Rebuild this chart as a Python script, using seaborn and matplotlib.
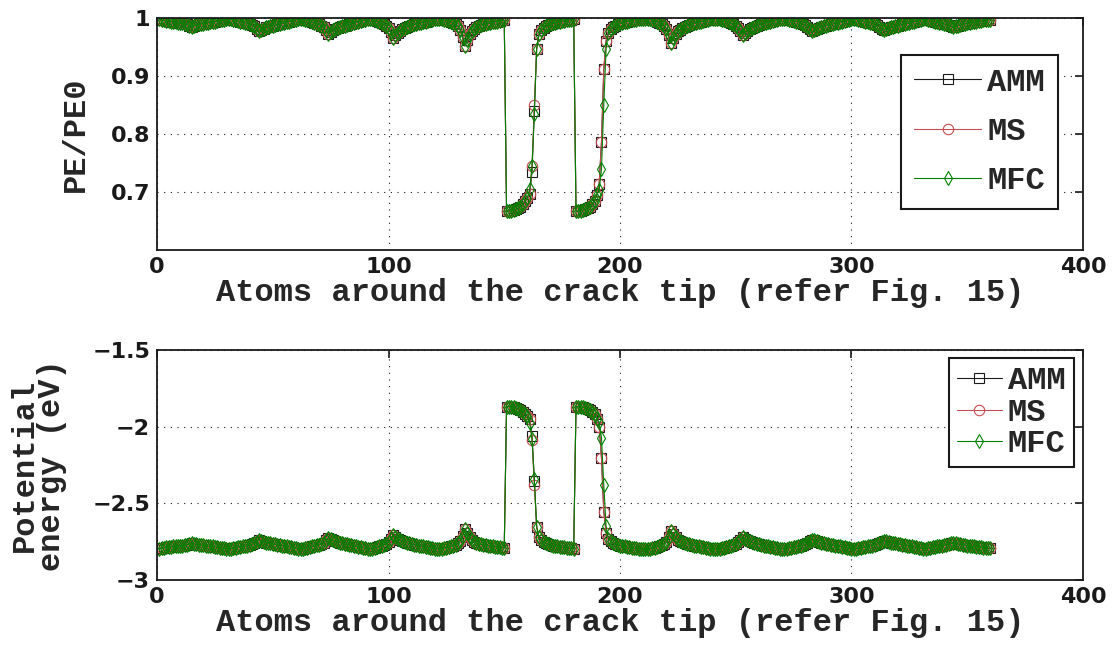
import matplotlib
matplotlib.use('Agg')
import matplotlib.pyplot as plt
import numpy as np
import pandas as pd
import seaborn as sns

# atom index around the crack tip (12 rings of 30 atoms)
atoms = list(range(1, 361))

# PE/PE0 for AMM
ratio_amm = [
    # 1-30
    0.998, 0.997, 0.996, 0.995, 0.995, 0.994, 0.993, 0.993, 0.992, 0.991,
    0.991, 0.990, 0.989, 0.987, 0.985, 0.987, 0.988, 0.989, 0.990, 0.990,
    0.991, 0.992, 0.993, 0.993, 0.994, 0.995, 0.996, 0.996, 0.997, 0.998,
    # 31-60
    0.999, 0.998, 0.997, 0.996, 0.995, 0.994, 0.993, 0.992, 0.991, 0.990,
    0.988, 0.986, 0.982, 0.977, 0.980, 0.982, 0.984, 0.985, 0.986, 0.987,
    0.988, 0.989, 0.990, 0.991, 0.992, 0.993, 0.994, 0.995, 0.996, 0.997,
    # 61-90
    0.998, 0.999, 0.998, 0.997, 0.996, 0.995, 0.993, 0.992, 0.990, 0.989,
    0.987, 0.984, 0.979, 0.973, 0.976, 0.979, 0.981, 0.983, 0.984, 0.986,
    0.987, 0.988, 0.989, 0.990, 0.992, 0.993, 0.994, 0.995, 0.996, 0.997,
    # 91-120
    0.998, 0.999, 0.998, 0.996, 0.995, 0.993, 0.991, 0.989, 0.987, 0.983,
    0.976, 0.966, 0.970, 0.975, 0.978, 0.981, 0.983, 0.985, 0.986, 0.988,
    0.989, 0.990, 0.991, 0.992, 0.993, 0.994, 0.995, 0.996, 0.997, 0.998,
    # 121-150
    0.999, 0.999, 0.998, 0.997, 0.996, 0.995, 0.993, 0.991, 0.989, 0.986,
    0.980, 0.968, 0.952, 0.962, 0.972, 0.978, 0.982, 0.985, 0.987, 0.988,
    0.989, 0.990, 0.991, 0.992, 0.993, 0.994, 0.994, 0.995, 0.996, 0.996,
    # 151-180
    0.667, 0.667, 0.668, 0.669, 0.670, 0.672, 0.675, 0.679, 0.684, 0.690,
    0.697, 0.735, 0.840, 0.947, 0.972, 0.979, 0.983, 0.986, 0.988, 0.990,
    0.991, 0.992, 0.993, 0.994, 0.995, 0.995, 0.996, 0.997, 0.997, 0.998,
    # 181-210
    0.667, 0.667, 0.668, 0.669, 0.670, 0.672, 0.675, 0.679, 0.685, 0.695,
    0.714, 0.786, 0.912, 0.961, 0.975, 0.981, 0.985, 0.987, 0.989, 0.991,
    0.992, 0.993, 0.994, 0.995, 0.996, 0.997, 0.997, 0.998, 0.998, 0.999,
    # 211-240
    0.999, 0.999, 0.998, 0.997, 0.996, 0.994, 0.992, 0.990, 0.987, 0.982,
    0.970, 0.957, 0.965, 0.972, 0.977, 0.980, 0.983, 0.985, 0.987, 0.988,
    0.990, 0.991, 0.992, 0.993, 0.994, 0.995, 0.996, 0.997, 0.998, 0.998,
    # 241-270
    0.999, 0.999, 0.998, 0.997, 0.996, 0.995, 0.993, 0.991, 0.989, 0.987,
    0.983, 0.977, 0.971, 0.975, 0.978, 0.981, 0.983, 0.985, 0.987, 0.988,
    0.990, 0.991, 0.992, 0.993, 0.994, 0.995, 0.996, 0.997, 0.998, 0.999,
    # 271-300
    0.999, 0.998, 0.997, 0.996, 0.995, 0.994, 0.993, 0.991, 0.990, 0.988,
    0.985, 0.981, 0.977, 0.979, 0.981, 0.983, 0.985, 0.986, 0.987, 0.988,
    0.989, 0.990, 0.991, 0.992, 0.993, 0.994, 0.995, 0.996, 0.997, 0.998,
    # 301-330
    0.999, 0.998, 0.997, 0.996, 0.995, 0.994, 0.993, 0.992, 0.991, 0.990,
    0.988, 0.985, 0.982, 0.980, 0.981, 0.983, 0.984, 0.985, 0.986, 0.987,
    0.988, 0.989, 0.990, 0.991, 0.992, 0.993, 0.994, 0.995, 0.996, 0.997,
    # 331-360
    0.998, 0.998, 0.997, 0.996, 0.995, 0.994, 0.993, 0.992, 0.991, 0.990,
    0.989, 0.988, 0.986, 0.985, 0.986, 0.987, 0.988, 0.989, 0.990, 0.991,
    0.992, 0.993, 0.993, 0.994, 0.995, 0.995, 0.996, 0.996, 0.997, 0.997,
]

# potential energy (eV) for AMM
energy_amm = [
    # 1-30
    -2.794, -2.792, -2.789, -2.786, -2.786, -2.783, -2.780, -2.780, -2.778, -2.775,
    -2.775, -2.772, -2.769, -2.764, -2.758, -2.764, -2.766, -2.769, -2.772, -2.772,
    -2.775, -2.778, -2.780, -2.780, -2.783, -2.786, -2.789, -2.789, -2.792, -2.794,
    # 31-60
    -2.797, -2.794, -2.792, -2.789, -2.786, -2.783, -2.780, -2.778, -2.775, -2.772,
    -2.766, -2.761, -2.750, -2.736, -2.744, -2.750, -2.755, -2.758, -2.761, -2.764,
    -2.766, -2.769, -2.772, -2.775, -2.778, -2.780, -2.783, -2.786, -2.789, -2.792,
    # 61-90
    -2.794, -2.797, -2.794, -2.792, -2.789, -2.786, -2.780, -2.778, -2.772, -2.769,
    -2.764, -2.755, -2.741, -2.724, -2.733, -2.741, -2.747, -2.752, -2.755, -2.761,
    -2.764, -2.766, -2.769, -2.772, -2.778, -2.780, -2.783, -2.786, -2.789, -2.792,
    # 91-120
    -2.794, -2.797, -2.794, -2.789, -2.786, -2.780, -2.775, -2.769, -2.764, -2.752,
    -2.733, -2.705, -2.716, -2.730, -2.738, -2.747, -2.752, -2.758, -2.761, -2.766,
    -2.769, -2.772, -2.775, -2.778, -2.780, -2.783, -2.786, -2.789, -2.792, -2.794,
    # 121-150
    -2.797, -2.797, -2.794, -2.792, -2.789, -2.786, -2.780, -2.775, -2.769, -2.761,
    -2.744, -2.710, -2.666, -2.694, -2.722, -2.738, -2.750, -2.758, -2.764, -2.766,
    -2.769, -2.772, -2.775, -2.778, -2.780, -2.783, -2.783, -2.786, -2.789, -2.789,
    # 151-180
    -1.868, -1.868, -1.870, -1.873, -1.876, -1.882, -1.890, -1.901, -1.915, -1.932,
    -1.952, -2.058, -2.352, -2.652, -2.722, -2.741, -2.752, -2.761, -2.766, -2.772,
    -2.775, -2.778, -2.780, -2.783, -2.786, -2.786, -2.789, -2.792, -2.792, -2.794,
    # 181-210
    -1.868, -1.868, -1.870, -1.873, -1.876, -1.882, -1.890, -1.901, -1.918, -1.946,
    -1.999, -2.201, -2.554, -2.691, -2.730, -2.747, -2.758, -2.764, -2.769, -2.775,
    -2.778, -2.780, -2.783, -2.786, -2.789, -2.792, -2.792, -2.794, -2.794, -2.797,
    # 211-240
    -2.797, -2.797, -2.794, -2.792, -2.789, -2.783, -2.778, -2.772, -2.764, -2.750,
    -2.716, -2.680, -2.702, -2.722, -2.736, -2.744, -2.752, -2.758, -2.764, -2.766,
    -2.772, -2.775, -2.778, -2.780, -2.783, -2.786, -2.789, -2.792, -2.794, -2.794,
    # 241-270
    -2.797, -2.797, -2.794, -2.792, -2.789, -2.786, -2.780, -2.775, -2.769, -2.764,
    -2.752, -2.736, -2.719, -2.730, -2.738, -2.747, -2.752, -2.758, -2.764, -2.766,
    -2.772, -2.775, -2.778, -2.780, -2.783, -2.786, -2.789, -2.792, -2.794, -2.797,
    # 271-300
    -2.797, -2.794, -2.792, -2.789, -2.786, -2.783, -2.780, -2.775, -2.772, -2.766,
    -2.758, -2.747, -2.736, -2.741, -2.747, -2.752, -2.758, -2.761, -2.764, -2.766,
    -2.769, -2.772, -2.775, -2.778, -2.780, -2.783, -2.786, -2.789, -2.792, -2.794,
    # 301-330
    -2.797, -2.794, -2.792, -2.789, -2.786, -2.783, -2.780, -2.778, -2.775, -2.772,
    -2.766, -2.758, -2.750, -2.744, -2.747, -2.752, -2.755, -2.758, -2.761, -2.764,
    -2.766, -2.769, -2.772, -2.775, -2.778, -2.780, -2.783, -2.786, -2.789, -2.792,
    # 331-360
    -2.794, -2.794, -2.792, -2.789, -2.786, -2.783, -2.780, -2.778, -2.775, -2.772,
    -2.769, -2.766, -2.761, -2.758, -2.761, -2.764, -2.766, -2.769, -2.772, -2.775,
    -2.778, -2.780, -2.780, -2.783, -2.786, -2.786, -2.789, -2.789, -2.792, -2.792,
]

# MS and MFC follow AMM except at a few atoms in the crack-face transitions
ratio_ms_diff = {162: 0.745, 163: 0.850}
ratio_mfc_diff = {161: 0.705, 162: 0.745, 163: 0.835,
                  191: 0.703, 192: 0.739, 193: 0.850, 194: 0.947}
energy_ms_diff = {162: -2.085, 163: -2.380}
energy_mfc_diff = {161: -1.975, 162: -2.080, 163: -2.340,
                   191: -1.970, 192: -2.070, 193: -2.380, 194: -2.650}

methods = ['AMM', 'MS', 'MFC']


def with_changes(base, changes):
    vals = list(base)
    for atom, v in changes.items():
        vals[atom - 1] = v
    return vals


ratio = {'AMM': ratio_amm,
         'MS': with_changes(ratio_amm, ratio_ms_diff),
         'MFC': with_changes(ratio_amm, ratio_mfc_diff)}
energy = {'AMM': energy_amm,
          'MS': with_changes(energy_amm, energy_ms_diff),
          'MFC': with_changes(energy_amm, energy_mfc_diff)}

styles = {'AMM': dict(color='k', marker='s', markersize=6.5),
          'MS': dict(color='r', marker='o', markersize=7.5),
          'MFC': dict(color=(0, 0.5, 0), marker='d', markersize=7.5)}

sns.set_theme(style='white')
plt.rcParams['font.family'] = ['DejaVu Sans']
mono = ['Liberation Mono', 'DejaVu Sans Mono']
label_font = dict(family=mono, weight='bold', size=23)

fig = plt.figure(figsize=(11.16, 6.46), dpi=100)
ax1 = fig.add_axes([0.1407, 0.613, 0.8297, 0.359])
ax2 = fig.add_axes([0.1407, 0.102, 0.8297, 0.356])


def draw_panel(ax, data):
    for m in methods:
        df = pd.DataFrame({'atom': atoms, 'value': data[m]})
        st = styles[m]
        sns.lineplot(data=df, x='atom', y='value', ax=ax, label=m,
                     color=st['color'], marker=st['marker'],
                     markersize=st['markersize'], markerfacecolor='none',
                     markeredgecolor=st['color'], markeredgewidth=0.8,
                     linewidth=0.8)
    ax.set_xlim(0, 400)
    ax.set_xticks([0, 100, 200, 300, 400])
    ax.grid(True, linestyle=(0, (1, 5)), color='k', linewidth=0.8)
    ax.tick_params(direction='in', top=True, right=True, length=6,
                   width=1.2, pad=5, labelsize=16, colors='k')
    for lab in ax.get_xticklabels() + ax.get_yticklabels():
        lab.set_fontweight('bold')
    for sp in ax.spines.values():
        sp.set_color('k')
        sp.set_linewidth(1.3)
    ax.set_xlabel('Atoms around the crack tip (refer Fig. 15)',
                  fontdict=label_font, labelpad=1)


draw_panel(ax1, ratio)
ax1.set_ylim(0.6, 1.0)
ax1.set_yticks([0.7, 0.8, 0.9, 1.0])
ax1.set_yticklabels(['0.7', '0.8', '0.9', '1'], fontweight='bold')
ax1.set_ylabel('PE/PE0', fontdict=label_font, labelpad=14)
leg1 = ax1.legend(loc='center right', bbox_to_anchor=(0.973, 0.51),
                  prop=dict(family=mono, weight='bold', size=23),
                  frameon=True, fancybox=False, framealpha=1,
                  edgecolor='k', labelspacing=0.6, handlelength=2.1,
                  handletextpad=0.2, borderpad=0.4, borderaxespad=0)
leg1.get_frame().set_linewidth(1.5)

draw_panel(ax2, energy)
ax2.set_ylim(-3.0, -1.5)
ax2.set_yticks([-3.0, -2.5, -2.0, -1.5])
ax2.set_yticklabels(['\u22123', '\u22122.5', '\u22122', '\u22121.5'],
                    fontweight='bold')
ax2.set_ylabel('Potential\nenergy (eV)', fontdict=label_font, labelpad=18,
               linespacing=0.9)
leg2 = ax2.legend(loc='upper right', bbox_to_anchor=(0.99, 0.965),
                  prop=dict(family=mono, weight='bold', size=23),
                  frameon=True, fancybox=False, framealpha=1,
                  edgecolor='k', labelspacing=0.05, handlelength=1.4,
                  handletextpad=0.2, borderpad=0.25, borderaxespad=0)
leg2.get_frame().set_linewidth(1.5)

fig.savefig('out.png', dpi=100)
